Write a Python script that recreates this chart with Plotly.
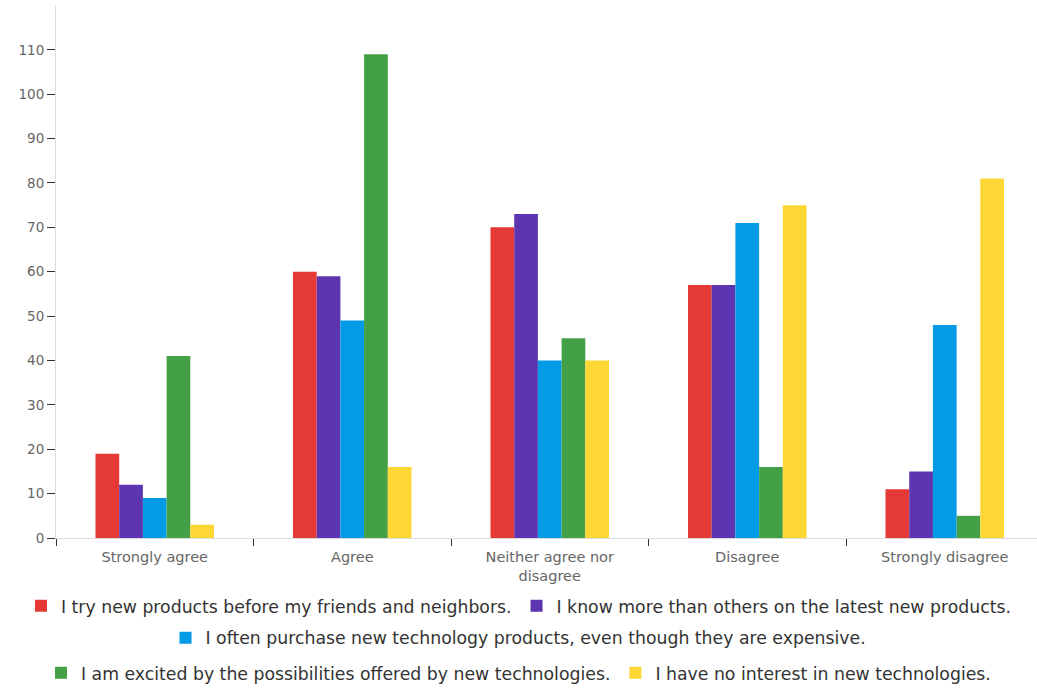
import plotly.graph_objects as go

categories = ["Strongly agree", "Agree", "Neither agree nor<br>disagree", "Disagree", "Strongly disagree"]
series_names = [
    "I try new products before my friends and neighbors.",
    "I know more than others on the latest new products.",
    "I often purchase new technology products, even though they are expensive.",
    "I am excited by the possibilities offered by new technologies.",
    "I have no interest in new technologies.",
]
try_new = [19, 60, 70, 57, 11]
know_more = [12, 59, 73, 57, 15]
often_purchase = [9, 49, 40, 71, 48]
excited = [41, 109, 45, 16, 5]
no_interest = [3, 16, 40, 75, 81]
y_ticks = [0, 10, 20, 30, 40, 50, 60, 70, 80, 90, 100, 110]

colors = ["#e53935", "#5e35b1", "#039be5", "#43a047", "#fdd835"]
values = [try_new, know_more, often_purchase, excited, no_interest]
legends = ["legend", "legend", "legend2", "legend3", "legend3"]

fig = go.Figure()
for name, vals, col, lg in zip(series_names, values, colors, legends):
    fig.add_trace(go.Bar(x=categories, y=vals, name=name, marker_color=col,
                         marker_line_width=0, legend=lg))

font = "'DejaVu Sans', sans-serif"
legend_common = dict(orientation="h", xanchor="center", x=0.5, yanchor="middle",
                     font=dict(size=17.3, color="#333", family=font),
                     bgcolor="rgba(0,0,0,0)", itemclick=False, itemdoubleclick=False)

fig.update_layout(
    width=1037, height=688,
    margin=dict(l=0, r=0, t=5, b=150, autoexpand=False),
    paper_bgcolor="white", plot_bgcolor="white",
    font=dict(family=font),
    barmode="group", bargap=0.4, bargroupgap=0,
    showlegend=True,
    legend=dict(y=-0.1276, **legend_common),
    legend2=dict(y=-0.1876, **legend_common),
    legend3=dict(y=-0.2533, **legend_common),
    xaxis=dict(domain=[56 / 1037, 1], range=[-0.5, 4.467], showline=True, linecolor="#dcdcdc",
               linewidth=1, automargin=False,
               ticks="outside", tickson="boundaries", ticklen=7, tickcolor="#333",
               ticklabelstandoff=6,
               showgrid=False, tickfont=dict(size=14.5, color="#666", family=font)),
    yaxis=dict(range=[0, 120.1], tickvals=y_ticks, showline=True, linecolor="#dcdcdc",
               linewidth=1, ticks="outside", ticklen=8, tickcolor="#333", automargin=False,
               showgrid=False, zeroline=False, tickfont=dict(size=13.5, color="#666", family=font)),
)

fig.write_html("out.html")
